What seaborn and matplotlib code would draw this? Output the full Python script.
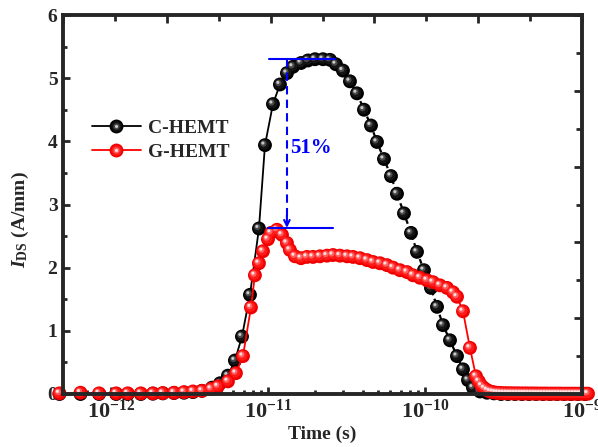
import numpy as np
import pandas as pd
import seaborn as sns
import matplotlib
matplotlib.use("Agg")
import matplotlib.pyplot as plt
from matplotlib.ticker import FixedLocator, LogLocator, MultipleLocator, FuncFormatter, NullFormatter
from matplotlib.transforms import ScaledTranslation
from matplotlib.lines import Line2D
from matplotlib.legend_handler import HandlerTuple

# ---------------- data (time in ps, current in A/mm) ----------------
c_time_ps = [0.47, 0.64, 0.84, 1.08, 1.28, 1.55, 1.85, 2.14, 2.52, 2.92,
             3.33, 3.80, 4.40, 4.95, 5.56, 6.16, 6.83, 7.68,
             8.76, 9.57, 10.76, 11.92, 13.21, 14.43, 16.23, 17.98, 19.93, 22.40,
             24.83, 27.10, 30.03, 33.28, 36.88, 40.88, 45.30, 49.45, 54.81, 60.73,
             66.32, 73.50, 81.45, 88.93, 98.54, 109.2, 119.3, 130.2, 144.3, 159.9,
             174.6, 187.9, 202.1,
             224.0, 248.2, 275.1, 304.8, 337.8, 374.4, 414.8, 459.7, 509.4, 564.5,
             625.5, 693.1, 768.1, 851.1, 943.1, 1045.0]
c_ids = [0.0, 0.0, 0.0, 0.0, 0.0, 0.0, 0.005, 0.01, 0.015, 0.02,
         0.03, 0.05, 0.10, 0.17, 0.29, 0.53, 0.91, 1.57,
         2.62, 3.94, 4.59, 4.90, 5.08, 5.18, 5.24, 5.28, 5.30, 5.30,
         5.29, 5.22, 5.12, 4.95, 4.76, 4.50, 4.25, 3.99, 3.72, 3.45,
         3.17, 2.86, 2.55, 2.25, 1.96, 1.68, 1.38, 1.09, 0.85, 0.60,
         0.39, 0.22, 0.10,
         0.04, 0.02, 0.01, 0.0, 0.0, 0.0, 0.0, 0.0, 0.0, 0.0,
         0.0, 0.0, 0.0, 0.0, 0.0, 0.0]

g_time_ps = [0.47, 0.64, 0.84, 1.08, 1.28, 1.55, 1.85, 2.14, 2.52, 2.92,
             3.33, 3.80, 4.34, 4.80, 5.56, 6.25, 6.93, 7.79, 8.26, 8.76,
             9.29, 10.0, 10.45, 11.41, 12.28, 13.21, 13.80, 14.86, 16.23, 17.71,
             19.35, 21.44, 23.75, 25.94, 28.74, 31.85, 34.78, 38.55, 42.71, 46.65,
             51.68, 57.28, 62.55, 69.3, 76.8, 83.85, 92.9, 103.0, 112.4, 124.6,
             138.1, 150.8, 159.9, 174.6, 193.4, 211.3, 220.2, 229.4, 239.0, 249.0,
             259.5, 270.3, 281.7, 293.5, 305.8, 318.6, 332.0, 345.9, 360.4, 375.5,
             391.2, 407.6, 424.7, 442.5, 461.0, 480.3, 500.5, 521.4, 543.3, 566.0,
             589.8, 614.5, 640.2, 667.1, 695.0, 724.1, 754.5, 786.1, 819.0, 853.3,
             889.1, 926.4, 965.2, 1005.6, 1047.8, 1091.7]
g_ids = [0.01, 0.02, 0.01, 0.01, 0.01, 0.01, 0.01, 0.015, 0.02, 0.03,
         0.04, 0.05, 0.08, 0.12, 0.20, 0.33, 0.60, 1.37, 1.88, 2.07,
         2.26, 2.45, 2.55, 2.60, 2.52, 2.39, 2.28, 2.18, 2.15, 2.17,
         2.17, 2.18, 2.19, 2.20, 2.19, 2.18, 2.17, 2.15, 2.12, 2.09,
         2.07, 2.04, 2.00, 1.96, 1.93, 1.88, 1.84, 1.80, 1.77, 1.72,
         1.68, 1.61, 1.54, 1.31, 0.73, 0.28, 0.20, 0.13, 0.09, 0.06,
         0.04, 0.03, 0.022, 0.018, 0.015, 0.013, 0.012, 0.011, 0.011, 0.010,
         0.010, 0.009, 0.009, 0.009, 0.008, 0.008, 0.008, 0.007, 0.007, 0.007,
         0.007, 0.006, 0.006, 0.006, 0.006, 0.006, 0.005, 0.005, 0.005, 0.005,
         0.005, 0.005, 0.005, 0.005, 0.005, 0.005]

series_labels = ["C-HEMT", "G-HEMT"]
x_major_ticks = [1e-12, 1e-11, 1e-10, 1e-9]
y_major_ticks = [0, 1, 2, 3, 4, 5, 6]

# annotation (51 % drop)
ann_top_i, ann_bot_i = 5.30, 2.63
ann_top_t = (10.15e-12, 26.7e-12)
ann_bot_t = (10.0e-12, 25.9e-12)
ann_arrow_t = 13.2e-12
ann_text = "51%"
ann_text_pos = (13.8e-12, 3.89)

assert len(c_time_ps) == len(c_ids)
assert len(g_time_ps) == len(g_ids)

df_c = pd.DataFrame({"t": np.array(c_time_ps) * 1e-12, "I": c_ids})
df_g = pd.DataFrame({"t": np.array(g_time_ps) * 1e-12, "I": g_ids})

# ---------------- style ----------------
sns.set_theme(style="ticks")
plt.rcParams.update({
    "font.family": ["Liberation Serif", "DejaVu Serif"],
    "font.weight": "bold",
    "axes.labelweight": "bold",
    "mathtext.fontset": "custom",
    "mathtext.rm": "Liberation Serif:bold",
    "mathtext.it": "Liberation Serif:italic:bold",
    "mathtext.bf": "Liberation Serif:bold",
    "axes.linewidth": 2.8,
})

fig = plt.figure(figsize=(5.98, 4.47), dpi=100)
ax = fig.add_axes([63 / 598, 53 / 447, 519 / 598, 379 / 447])

# ---------------- lines ----------------
peak = 27
sns.lineplot(data=df_c.iloc[:peak + 1], x="t", y="I", color="black", lw=1.3,
             ax=ax, sort=False, estimator=None, legend=False, zorder=2)
sns.lineplot(data=df_c.iloc[peak:], x="t", y="I", color="black", lw=1.6,
             linestyle=(0, (2.2, 1.6)), ax=ax, sort=False, estimator=None,
             legend=False, zorder=2)
sns.lineplot(data=df_g, x="t", y="I", color="#ff0000", lw=1.3, ax=ax,
             sort=False, estimator=None, legend=False, zorder=4)

# ---------------- sphere markers ----------------
black_layers = [("#000000", 100, 0.0), ("#141414", 55, 0.5), ("#4a4a4a", 20, 1.1), ("#c8c8c8", 5, 1.5)]
red_layers = [("#f00000", 100, 0.0), ("#ff1a1a", 55, 0.5), ("#ff6060", 20, 1.1), ("#ffe0e0", 5, 1.5)]


def spheres(df, layers, z):
    for col, s, off in layers:
        tr = ax.transData + ScaledTranslation(-off / 72, off / 72, fig.dpi_scale_trans)
        sns.scatterplot(data=df, x="t", y="I", s=s, color=col, edgecolor="none",
                        linewidth=0, ax=ax, transform=tr, clip_on=False,
                        zorder=z, legend=False)


spheres(df_c, black_layers, 3)
spheres(df_g, red_layers, 5)

# ---------------- annotation ----------------
blue = "#0000ff"
ax.plot(ann_top_t, [ann_top_i, ann_top_i], color=blue, lw=1.5, zorder=7)
ax.plot(ann_bot_t, [ann_bot_i, ann_bot_i], color=blue, lw=1.5, zorder=7)
ax.plot([ann_arrow_t, ann_arrow_t], [ann_top_i, ann_bot_i + 0.03], color=blue,
        lw=1.5, linestyle=(0, (4, 2.5)), zorder=7)
ax.annotate("", xy=(ann_arrow_t, ann_bot_i), xytext=(ann_arrow_t, ann_bot_i + 0.2),
            arrowprops=dict(arrowstyle="->", color=blue, lw=1.5,
                            mutation_scale=10, shrinkA=0, shrinkB=0), zorder=7)
ax.text(*ann_text_pos, ann_text, color=blue, fontsize=15, fontweight="bold",
        ha="left", va="center", zorder=7)

# ---------------- axes ----------------
ax.set_xscale("log")
ax.set_xlim(4.95e-13, 1e-9)
ax.set_ylim(0, 6)
ax.xaxis.set_major_locator(FixedLocator(x_major_ticks))
ax.xaxis.set_minor_locator(LogLocator(base=10, subs=np.arange(2, 10)))
ax.xaxis.set_minor_formatter(NullFormatter())
ax.xaxis.set_major_formatter(FuncFormatter(
    lambda v, p: r"$\mathbf{10^{%d}}$" % int(round(np.log10(v)))))
ax.yaxis.set_major_locator(FixedLocator(y_major_ticks))
ax.yaxis.set_minor_locator(MultipleLocator(0.5))

ax.tick_params(which="both", direction="in", top=False, right=False, width=2,
               labelsize=14)
ax.tick_params(axis="x", which="major", labelsize=16)
ax.tick_params(which="major", length=5)
ax.tick_params(which="minor", length=3)
ax.tick_params(axis="x", pad=4)
ax.tick_params(axis="y", pad=4)
for lab in ax.get_xticklabels() + ax.get_yticklabels():
    lab.set_fontweight("bold")

ax.set_xlabel("Time (s)", fontsize=14, fontweight="bold", labelpad=2)
ax.set_ylabel(r"$I_{\mathbf{DS}}$ (A/mm)", fontsize=14, fontweight="bold")
ax.yaxis.set_label_coords(-0.062, 0.46)

# mirrored decorative ticks on top and right
ax2 = ax.twinx()
ax2.set_ylim(0, 10)
ax2.yaxis.set_major_locator(MultipleLocator(2))
ax2.yaxis.set_minor_locator(MultipleLocator(1))
ax2.tick_params(axis="y", which="both", direction="in", right=True, left=False,
                labelright=False, width=2)
ax2.tick_params(axis="y", which="major", length=6)
ax2.tick_params(axis="y", which="minor", length=4)
ax3 = ax.twiny()
ax3.set_xlim(0, 10)
ax3.xaxis.set_major_locator(MultipleLocator(2))
ax3.xaxis.set_minor_locator(MultipleLocator(1))
ax3.tick_params(axis="x", which="both", direction="in", top=True, bottom=False,
                labeltop=False, width=2)
ax3.tick_params(axis="x", which="major", length=6)
ax3.tick_params(axis="x", which="minor", length=4)
for a in (ax2, ax3):
    a.grid(False)
    for sp in a.spines.values():
        sp.set_visible(False)
for sp in ax.spines.values():
    sp.set_linewidth(2.8)
    sp.set_zorder(8)

# ---------------- legend ----------------
def sphere_handle(layers, line_color):
    hs = [Line2D([], [], color=line_color, lw=1.3, marker="o",
                 ms=np.sqrt(layers[0][1]), mfc=layers[0][0], mec="none")]
    for col, s, off in layers[1:]:
        hs.append(Line2D([], [], ls="none", marker="o", ms=np.sqrt(s), mfc=col, mec="none"))
    return tuple(hs)


handles = [sphere_handle(black_layers, "black"), sphere_handle(red_layers, "#ff0000")]
ax.legend(handles=handles, labels=series_labels, handler_map={tuple: HandlerTuple(ndivide=1, pad=0)},
          loc="center left", bbox_to_anchor=((92 - 63) / 519, (394 - 140) / 379),
          frameon=False, borderpad=0, borderaxespad=0, handlelength=2.5,
          handletextpad=0.4, labelspacing=0.3, prop={"size": 14, "weight": "bold"})

fig.savefig("out.png", dpi=100)
